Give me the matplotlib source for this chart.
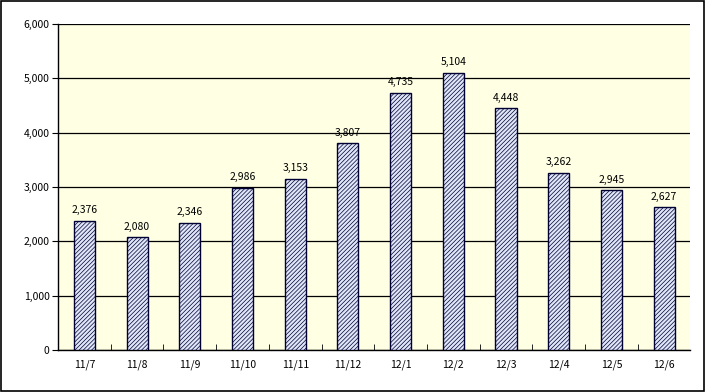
import numpy as np
import matplotlib.pyplot as plt

plt.rcParams['font.family'] = ['Noto Sans CJK JP', 'DejaVu Sans']
plt.rcParams['hatch.color'] = '#2a3570'
plt.rcParams['hatch.linewidth'] = 0.5

# data
months = ['11/7', '11/8', '11/9', '11/10', '11/11', '11/12',
          '12/1', '12/2', '12/3', '12/4', '12/5', '12/6']
values = [2376, 2080, 2346, 2986, 3153, 3807, 4735, 5104, 4448, 3262, 2945, 2627]

fig = plt.figure(figsize=(7.05, 3.92), dpi=100)
ax = fig.add_axes([0.0823, 0.107, 0.897, 0.832])
ax.set_facecolor('#ffffe4')

x = np.arange(len(months))
ax.bar(x, values, width=0.4, color='#dfe6f7', edgecolor='#000033',
       linewidth=1.0, hatch='////////', zorder=3)

for xi, v in zip(x, values):
    ax.text(xi, v + 100, f'{v:,}', ha='center', va='bottom', fontsize=7.5)

ax.set_xlim(-0.5, len(months) - 0.5)
ax.set_ylim(0, 6000)
ax.set_yticks(range(0, 6001, 1000))
ax.set_yticklabels([f'{t:,}' for t in range(0, 6001, 1000)], fontsize=7.5)
ax.yaxis.grid(True, color='black', linewidth=0.9, zorder=0)
ax.set_axisbelow(True)

ax.set_xticks(x)
ax.set_xticklabels(months, fontsize=7.5)
ax.tick_params(axis='x', length=0, pad=7)
ax.set_xticks(np.arange(0.5, len(months) - 1, 1), minor=True)
ax.tick_params(axis='x', which='minor', length=4, direction='in')
ax.tick_params(axis='y', length=4, direction='out', pad=2)

for side in ['top', 'right']:
    ax.spines[side].set_visible(False)
ax.spines['left'].set_linewidth(1.0)
ax.spines['bottom'].set_linewidth(1.0)

# outer border
fig.patches.append(plt.Rectangle((0.002, 0.003), 0.996, 0.994, transform=fig.transFigure,
                                 fill=False, edgecolor='black', linewidth=1.2))

fig.savefig('out.png', dpi=100)
